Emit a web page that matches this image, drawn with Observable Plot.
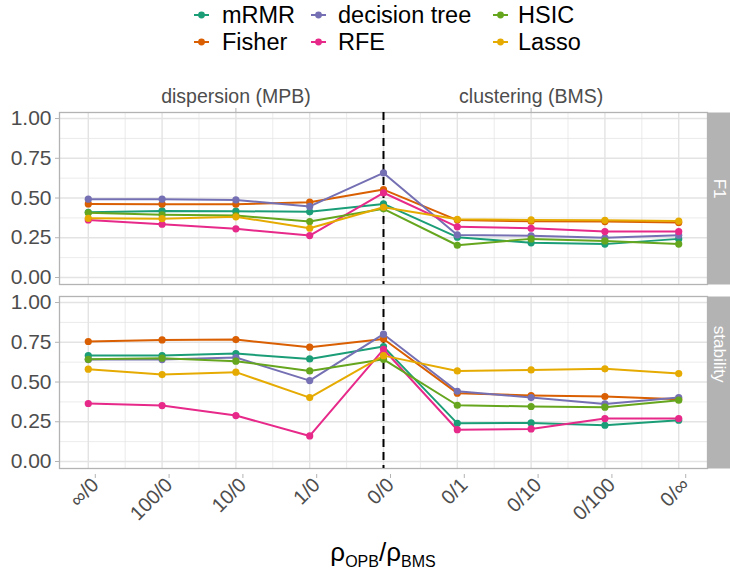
<!DOCTYPE html>
<html><head><meta charset="utf-8">
<script src="https://cdn.jsdelivr.net/npm/d3@7"></script>
<script src="https://cdn.jsdelivr.net/npm/@observablehq/plot@0.6"></script>
<style>
body{margin:0;background:#fff;font-family:"Liberation Sans",Arial,sans-serif;}
#legend{position:relative;height:58px;width:730px;}
.item{position:absolute;font-size:23.5px;line-height:21px;height:21px;color:#000;white-space:nowrap;}
.key{position:absolute;}
#chart{height:475px;}
#xlab{position:relative;height:40px;width:730px;}
#xlab span{position:absolute;left:383px;top:4px;transform:translateX(-50%);font-size:26px;color:#000;white-space:nowrap;}
#xlab sub{font-size:16px;vertical-align:-6px;}
</style></head><body>
<div id="legend"></div>
<div id="chart"></div>
<div id="xlab"><span>ρ<sub>OPB</sub>/ρ<sub>BMS</sub></span></div>
<script>
const xLabels = ["∞/0","100/0","10/0","1/0","0/0","0/1","0/10","0/100","0/∞"];
const metrics = ["F1","stability"];
const topLabels = ["dispersion (MPB)","clustering (BMS)"];
const series = ["mRMR","Fisher","decision tree","RFE","HSIC","Lasso"];
const colors = ["#1B9E77","#D95F02","#7570B3","#E7298A","#66A61E","#E6AB02"];

const f1_mRMR   = [0.41,0.419,0.417,0.413,0.463,0.254,0.218,0.210,0.243];
const f1_Fisher = [0.463,0.461,0.461,0.474,0.553,0.361,0.354,0.352,0.346];
const f1_tree   = [0.493,0.493,0.488,0.447,0.658,0.268,0.262,0.250,0.266];
const f1_RFE    = [0.362,0.335,0.306,0.264,0.533,0.319,0.310,0.289,0.289];
const f1_HSIC   = [0.407,0.394,0.390,0.352,0.432,0.203,0.243,0.230,0.210];
const f1_Lasso  = [0.372,0.370,0.382,0.310,0.442,0.366,0.362,0.360,0.355];

const st_mRMR   = [0.667,0.667,0.679,0.645,0.723,0.240,0.243,0.228,0.260];
const st_Fisher = [0.755,0.765,0.767,0.719,0.771,0.430,0.415,0.409,0.392];
const st_tree   = [0.641,0.641,0.654,0.509,0.801,0.442,0.402,0.362,0.402];
const st_RFE    = [0.365,0.352,0.289,0.161,0.706,0.200,0.205,0.270,0.270];
const st_HSIC   = [0.643,0.650,0.631,0.570,0.643,0.354,0.346,0.342,0.386];
const st_Lasso  = [0.581,0.547,0.562,0.402,0.666,0.570,0.576,0.583,0.553];

const yTicks = [0,0.25,0.5,0.75,1];
const topTickPos = [2,6];

const valuesBy = {
  F1: [f1_mRMR,f1_Fisher,f1_tree,f1_RFE,f1_HSIC,f1_Lasso],
  stability: [st_mRMR,st_Fisher,st_tree,st_RFE,st_HSIC,st_Lasso]
};
const rows = [];
for (const m of metrics) series.forEach((s,k)=>valuesBy[m][k].forEach((v,i)=>rows.push({metric:m,series:s,i,v})));

const xIdx = d3.range(xLabels.length);
const xMinor = d3.range(0.5, xLabels.length-1, 1);
const yMinor = d3.range(0.125, 1, 0.25);

// legend
const leg = document.getElementById("legend");
const keyLeft = [194,311,493], textLeft = [222,338,518], rowY = [15,42];
series.forEach((s,k)=>{
  const col = Math.floor(k/2), row = k%2;
  const key = document.createElementNS("http://www.w3.org/2000/svg","svg");
  key.setAttribute("width",15); key.setAttribute("height",10);
  key.setAttribute("class","key");
  key.style.left = keyLeft[col]+"px"; key.style.top = (rowY[row]-5)+"px";
  key.innerHTML = `<line x1="0" x2="15" y1="5" y2="5" stroke="${colors[k]}" stroke-width="2"/><circle cx="7.5" cy="5" r="3.4" fill="${colors[k]}"/>`;
  leg.appendChild(key);
  const t = document.createElement("div");
  t.className="item"; t.textContent = s;
  t.style.left = textLeft[col]+"px"; t.style.top = (rowY[row]-10)+"px";
  leg.appendChild(t);
});

const gridC = "#e3e3e3";
const chart = Plot.plot({
  width:730, height:475,
  marginLeft:59, marginRight:23, marginTop:54, marginBottom:64,
  style:{fontFamily:"Liberation Sans, Arial, sans-serif", background:"#fff"},
  x:{domain:[-0.39, 8.39], axis:null},
  y:{domain:[-0.044, 1.038], axis:null},
  fy:{domain:metrics, paddingInner:0.065, paddingOuter:0, axis:null},
  color:{domain:series, range:colors},
  marks:[
    Plot.frame({fill:"#b3b3b3", insetLeft:648, insetRight:-23}),
    Plot.gridY(yMinor, {stroke:gridC, strokeOpacity:1, strokeWidth:0.7}),
    Plot.gridX(xMinor, {stroke:gridC, strokeOpacity:1, strokeWidth:0.7}),
    Plot.gridY(yTicks, {stroke:gridC, strokeOpacity:1, strokeWidth:1.4}),
    Plot.gridX(xIdx, {stroke:gridC, strokeOpacity:1, strokeWidth:1.4}),
    Plot.frame({stroke:"#b3b3b3", strokeWidth:1.3}),
    Plot.ruleX([4], {stroke:"black", strokeWidth:2, strokeDasharray:"8,5"}),
    Plot.line(rows, {x:"i", y:"v", fy:"metric", z:"series", stroke:"series", strokeWidth:2}),
    Plot.dot(rows, {x:"i", y:"v", fy:"metric", fill:"series", r:3.6}),
    Plot.axisY({ticks:yTicks, tickFormat:d=>d.toFixed(2), tickSize:4, tickPadding:4, fontSize:21, stroke:"#b3b3b3", fill:"#4d4d4d", label:null}),
    Plot.axisX({ticks:xIdx, tickFormat:i=>xLabels[i], tickRotate:-45, tickSize:4, tickPadding:3, fontSize:20, dx:7, dy:6, stroke:"#b3b3b3", fill:"#4d4d4d", label:null}),
    Plot.axisX({anchor:"top", ticks:topTickPos, tickFormat:(d,j)=>topLabels[j], tickSize:5, tickPadding:5, fontSize:19.5, stroke:"#b3b3b3", fill:"#4d4d4d", label:null}),
    Plot.text(metrics, {fy:d=>d, text:d=>d, frameAnchor:"right", dx:11.5, rotate:90, fill:"white", fontSize:17})
  ]
});
document.getElementById("chart").appendChild(chart);
</script>
</body></html>
